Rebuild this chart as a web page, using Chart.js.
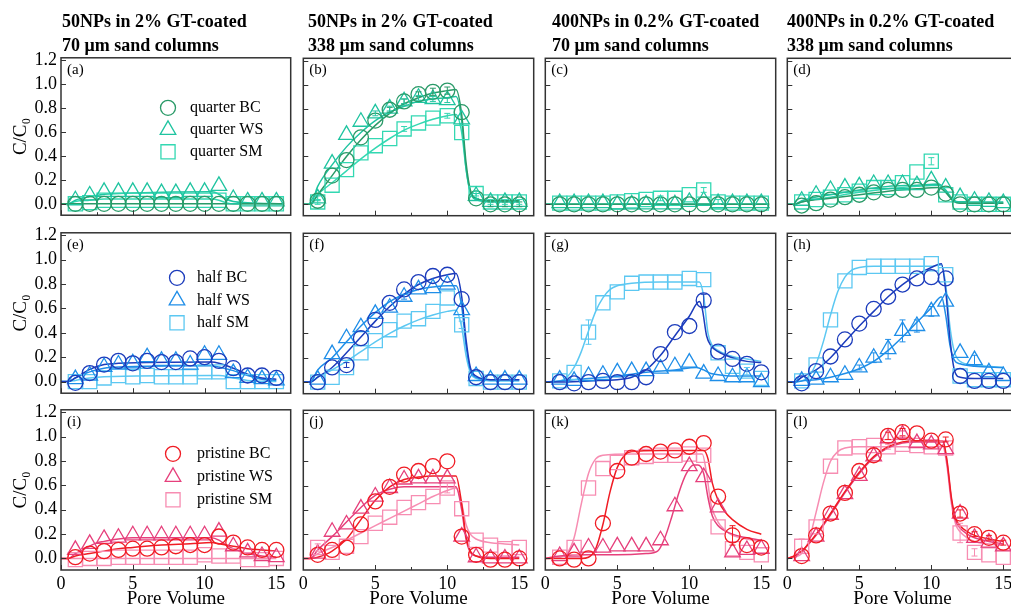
<!DOCTYPE html>
<html><head><meta charset="utf-8">
<script src="https://cdn.jsdelivr.net/npm/chart.js@4/dist/chart.umd.min.js"></script>
<style>
html,body{margin:0;padding:0;background:#fff;overflow:hidden}
#wrap{position:relative;width:1011px;height:609px;overflow:hidden;background:#fff}
.ttl{position:absolute;font-family:"Liberation Serif","Times New Roman",serif;font-weight:bold;font-size:18px;line-height:24px;color:#000;white-space:nowrap}
canvas{position:absolute}
</style></head><body><div id="wrap"></div>
<script>
// ---------- data ----------
const PV = [1,2,3,4,5,6,7,8,9,10,11,12,13,14,15];
const xTickVals = [0,5,10,15];
const xMinorVals = [2.5,7.5,12.5];
const yTickVals = [0,0.2,0.4,0.6,0.8,1.0,1.2];
const titleLine1 = ['50NPs in 2% GT-coated','50NPs in 2% GT-coated','400NPs in 0.2% GT-coated','400NPs in 0.2% GT-coated'];
const titleLine2 = ['70 \u03bcm sand columns','338 \u03bcm sand columns','70 \u03bcm sand columns','338 \u03bcm sand columns'];
const rowNames = ['quarter','half','pristine'];
const seriesNames = ['BC','WS','SM'];
const panelLetters = ['a','b','c','d','e','f','g','h','i','j','k','l'];

// (a)
const a_BC = [0.0,0.0,0.0,0.0,0.0,0.0,0.0,0.0,0.0,0.0,0.0,0.0,0.0,0.0,0.0];
const a_WS = [0.03,0.07,0.1,0.1,0.1,0.1,0.09,0.09,0.1,0.1,0.15,0.04,0.02,0.02,0.02];
const a_SM = [0.0,0.01,0.03,0.03,0.03,0.03,0.03,0.03,0.03,0.03,0.03,0.0,0.0,0.0,0.0];
const a_BC_fit = [[0,0],[0.5,0],[2,0],[10.5,0],[15.5,0]];
const a_WS_fit = [[0,0],[0.5,0],[1,0.03],[2,0.06],[3,0.08],[5,0.09],[10.5,0.1],[11,0.08],[11.5,0.04],[12,0.02],[13,0.01],[15.5,0.0]];
const a_SM_fit = [[0,0],[0.5,0],[1,0.02],[2,0.03],[3,0.04],[10.5,0.04],[11,0.03],[11.5,0.01],[12,0],[15.5,0]];
// (b)
const b_BC = [0.03,0.24,0.37,0.56,0.7,0.79,0.86,0.92,0.94,0.95,0.77,0.05,0.0,0.0,0.0];
const b_WS = [0.05,0.34,0.58,0.69,0.76,0.8,0.86,0.89,0.88,0.87,0.71,0.07,0.02,0.02,0.02];
const b_SM = [0.02,0.16,0.29,0.43,0.49,0.55,0.63,0.68,0.72,0.74,0.6,0.09,0.02,0.02,0.02];
const b_BC_fit = [[0,0],[0.5,0],[1,0.08],[2,0.24],[3,0.4],[4,0.54],[5,0.66],[6,0.76],[7,0.84],[8,0.89],[9,0.93],[10,0.95],[10.6,0.96],[11,0.75],[11.3,0.35],[11.6,0.12],[12,0.05],[13,0.03],[15,0.03]];
const b_WS_fit = [[0,0],[0.5,0],[1,0.15],[2,0.33],[3,0.48],[4,0.6],[5,0.7],[6,0.77],[7,0.82],[8,0.86],[9,0.88],[10,0.89],[10.6,0.9],[11,0.7],[11.3,0.3],[11.6,0.1],[12,0.04],[13,0.02],[15,0.02]];
const b_SM_fit = [[0,0],[0.5,0],[1,0.08],[2,0.18],[3,0.28],[4,0.38],[5,0.47],[6,0.55],[7,0.62],[8,0.67],[9,0.71],[10,0.74],[10.6,0.75],[11,0.6],[11.3,0.3],[11.6,0.1],[12,0.04],[13,0.03],[15,0.03]];
// (c)
const c_BC = [0.0,0.0,0.0,0.0,0.0,0.0,0.0,0.0,0.0,0.0,0.0,0.0,0.0,0.0,0.0];
const c_WS = [0.01,0.01,0.01,0.01,0.0,0.0,0.0,0.0,0.0,0.02,0.03,0.01,0.01,0.01,0.01];
const c_SM = [0.01,0.01,0.01,0.01,0.02,0.03,0.04,0.05,0.05,0.08,0.12,0.02,0.01,0.01,0.01];
const c_BC_fit = [[0,0],[15.5,0]];
const c_WS_fit = [[0,0],[15.5,0]];
const c_SM_fit = [[0,0],[15.5,0]];
// (d)
const d_BC = [-0.01,0.01,0.04,0.06,0.08,0.1,0.12,0.12,0.12,0.14,0.09,0.0,0.0,0.0,0.0];
const d_WS = [0.03,0.08,0.12,0.14,0.15,0.17,0.17,0.17,0.16,0.2,0.14,0.06,0.03,0.02,0.01];
const d_SM = [0.02,0.04,0.06,0.08,0.11,0.14,0.14,0.18,0.27,0.36,0.08,0.02,0.0,0.0,0.0];
const d_BC_fit = [[0,0],[0.5,0],[1,0.02],[3,0.05],[5,0.08],[7,0.11],[9,0.13],[10.5,0.14],[11,0.1],[11.5,0.03],[12,0.01],[15,0.01]];
const d_WS_fit = [[0,0],[0.5,0],[1,0.03],[3,0.08],[5,0.12],[7,0.15],[9,0.16],[10.5,0.17],[11,0.12],[11.5,0.04],[12,0.02],[15,0.02]];
const d_SM_fit = [[0,0],[0.5,0],[1,0.02],[3,0.06],[5,0.1],[7,0.13],[9,0.15],[10.5,0.16],[11,0.11],[11.5,0.03],[12,0.01],[15,0.01]];
// (e)
const e_BC = [-0.01,0.07,0.14,0.17,0.15,0.17,0.16,0.16,0.19,0.2,0.17,0.11,0.05,0.05,0.03];
const e_WS = [0.02,0.05,0.12,0.14,0.15,0.2,0.17,0.17,0.14,0.22,0.22,0.07,0.03,0.02,0.01];
const e_SM = [0.0,0.0,0.03,0.05,0.04,0.05,0.04,0.04,0.04,0.08,0.08,0.0,0.0,0.0,0.0];
const e_BC_fit = [[0,0],[0.5,0],[1,0.03],[2,0.1],[3,0.14],[4,0.15],[10.5,0.16],[11,0.15],[12,0.11],[13,0.06],[14,0.03],[15,0.02]];
const e_WS_fit = [[0,0],[0.5,0],[1,0.03],[2,0.08],[3,0.11],[4,0.12],[10.5,0.13],[11,0.12],[12,0.09],[13,0.05],[14,0.02],[15,0.01]];
const e_SM_fit = [[0,0],[0.5,0],[1,0.01],[2,0.03],[3,0.04],[10.5,0.05],[11,0.05],[12,0.03],[13,0.01],[15,0]];
// (f)
const f_BC = [0.0,0.12,0.14,0.36,0.51,0.65,0.76,0.82,0.87,0.88,0.68,0.04,0.0,0.0,0.0];
const f_WS = [0.02,0.23,0.36,0.45,0.56,0.61,0.7,0.76,0.77,0.8,0.59,0.05,0.02,0.02,0.02];
const f_SM = [0.0,0.04,0.12,0.24,0.34,0.43,0.5,0.52,0.58,0.69,0.47,0.03,0.0,0.0,0.0];
const f_BC_fit = [[0,0],[0.5,0],[1,0.04],[2,0.12],[3,0.24],[4,0.37],[5,0.5],[6,0.62],[7,0.72],[8,0.8],[9,0.85],[10,0.88],[10.6,0.89],[11,0.7],[11.3,0.35],[11.6,0.12],[12,0.05],[13,0.02],[15,0.02]];
const f_WS_fit = [[0,0],[0.5,0],[1,0.1],[2,0.2],[3,0.33],[4,0.46],[5,0.57],[6,0.66],[7,0.72],[8,0.76],[9,0.78],[10,0.79],[10.6,0.79],[11,0.62],[11.3,0.3],[11.6,0.1],[12,0.04],[13,0.02],[15,0.02]];
const f_SM_fit = [[0,0],[0.5,0],[1,0.04],[2,0.1],[3,0.17],[4,0.25],[5,0.33],[6,0.4],[7,0.46],[8,0.51],[9,0.55],[10,0.58],[10.6,0.59],[11,0.45],[11.3,0.22],[11.6,0.08],[12,0.03],[13,0.01],[15,0.01]];
// (g)
const g_BC = [0.0,-0.01,0.0,0.01,0.0,0.0,0.04,0.23,0.41,0.46,0.67,0.25,0.19,0.15,0.08];
const g_WS = [0.02,0.01,0.05,0.06,0.08,0.09,0.09,0.11,0.13,0.16,0.07,0.05,0.04,0.04,0.0];
const g_SM = [0.01,0.08,0.41,0.65,0.74,0.81,0.82,0.82,0.82,0.85,0.84,0.24,0.13,0.09,0.03];
const g_BC_fit = [[0,0],[1,0],[3,0.01],[5,0.02],[6,0.04],[7,0.1],[8,0.22],[9,0.38],[10,0.54],[10.7,0.66],[10.9,0.6],[11.2,0.38],[11.5,0.3],[12,0.25],[13,0.2],[14,0.17],[15,0.16]];
const g_WS_fit = [[0,0],[1,0.01],[3,0.03],[5,0.05],[7,0.08],[9,0.1],[10.5,0.12],[11,0.1],[11.5,0.07],[12,0.06],[13,0.05],[15,0.05]];
const g_SM_fit = [[0,0],[1,0.01],[1.5,0.04],[2,0.12],[2.5,0.25],[3,0.42],[3.5,0.58],[4,0.69],[4.5,0.76],[5,0.79],[6,0.81],[8,0.82],[10,0.82],[10.7,0.82],[11,0.7],[11.3,0.4],[11.6,0.3],[12,0.26],[13,0.21],[14,0.19],[15,0.17]];
// (h)
const h_BC = [-0.01,0.09,0.21,0.35,0.48,0.6,0.7,0.8,0.85,0.86,0.85,0.05,0.01,0.01,0.01];
const h_WS = [0.01,0.02,0.04,0.06,0.12,0.2,0.27,0.42,0.46,0.58,0.66,0.24,0.18,0.08,0.05];
const h_SM = [0.01,0.14,0.51,0.83,0.94,0.95,0.95,0.95,0.95,0.97,0.88,0.05,0.02,0.02,0.02];
const h_BC_fit = [[0,0],[0.5,0],[1,0.04],[2,0.1],[3,0.2],[4,0.33],[5,0.46],[6,0.58],[7,0.7],[8,0.8],[9,0.88],[10,0.94],[10.7,0.97],[11,0.75],[11.3,0.35],[11.6,0.1],[12,0.04],[13,0.03],[15,0.03]];
const h_WS_fit = [[0,0],[0.5,0],[1,0.01],[2,0.02],[3,0.04],[4,0.07],[5,0.11],[6,0.17],[7,0.26],[8,0.37],[9,0.49],[10,0.61],[10.7,0.7],[11,0.55],[11.3,0.3],[11.6,0.18],[12,0.15],[13,0.13],[15,0.12]];
const h_SM_fit = [[0,0],[1,0.01],[1.5,0.05],[2,0.15],[2.5,0.33],[3,0.55],[3.5,0.74],[4,0.86],[4.5,0.92],[5,0.94],[6,0.95],[8,0.95],[10,0.95],[10.7,0.96],[11,0.8],[11.3,0.45],[11.6,0.25],[12,0.17],[13,0.14],[15,0.12]];
// (i)
const i_BC = [0.01,0.04,0.06,0.07,0.08,0.08,0.09,0.1,0.11,0.11,0.18,0.13,0.09,0.07,0.07];
const i_WS = [0.07,0.12,0.16,0.17,0.19,0.19,0.19,0.19,0.19,0.19,0.22,0.1,0.05,0.02,0.01];
const i_SM = [-0.01,0.0,0.0,0.01,0.01,0.01,0.01,0.01,0.01,0.03,0.02,0.02,-0.01,-0.01,0.0];
const i_BC_fit = [[0,0],[0.5,0],[1,0.02],[2,0.04],[3,0.06],[4,0.08],[5,0.09],[7,0.11],[9,0.12],[10.5,0.13],[11,0.12],[12,0.1],[13,0.08],[14,0.07],[15,0.06]];
const i_WS_fit = [[0,0],[0.5,0],[1,0.04],[2,0.1],[2.5,0.13],[3,0.14],[4,0.16],[5,0.17],[10.5,0.17],[11,0.15],[11.5,0.11],[12,0.08],[13,0.04],[14,0.02],[15,0.01]];
const i_SM_fit = [[0,0],[0.5,0],[15,0]];
// (j)
const j_BC = [0.03,0.07,0.09,0.28,0.47,0.59,0.69,0.72,0.76,0.8,0.18,0.03,-0.01,-0.01,0.0];
const j_WS = [0.04,0.22,0.28,0.41,0.51,0.58,0.65,0.66,0.66,0.66,0.18,0.01,0.0,0.0,0.0];
const j_SM = [0.09,0.05,0.1,0.18,0.29,0.34,0.42,0.46,0.51,0.58,0.41,0.15,0.11,0.08,0.09];
const j_BC_fit = [[0,0],[0.5,0],[1,0.01],[2,0.06],[3,0.16],[4,0.32],[5,0.48],[6,0.59],[7,0.65],[8,0.67],[9,0.68],[10,0.68],[10.6,0.68],[11,0.45],[11.3,0.18],[11.6,0.06],[12,0.02],[13,0],[15,0]];
const j_WS_fit = [[0,0],[0.5,0],[1,0.07],[2,0.18],[3,0.3],[4,0.42],[5,0.52],[6,0.57],[7,0.59],[8,0.59],[10,0.59],[10.6,0.59],[11,0.4],[11.3,0.16],[11.6,0.05],[12,0.02],[13,0.01],[15,0.01]];
const j_SM_fit = [[0,0],[0.5,0],[1,0.04],[2,0.09],[3,0.15],[4,0.21],[5,0.27],[6,0.33],[7,0.39],[8,0.45],[9,0.51],[10,0.56],[10.6,0.58],[11,0.45],[11.3,0.28],[11.6,0.2],[12,0.16],[13,0.13],[14,0.12],[15,0.11]];
// (k)
const k_BC = [0.0,-0.01,0.0,0.29,0.72,0.83,0.86,0.88,0.89,0.92,0.95,0.51,0.19,0.11,0.09];
const k_WS = [0.02,0.05,0.09,0.09,0.1,0.1,0.1,0.15,0.43,0.76,0.67,0.42,0.05,0.07,0.08];
const k_SM = [0.01,0.09,0.58,0.74,0.79,0.83,0.84,0.85,0.85,0.86,0.85,0.26,0.08,0.05,0.03];
const k_BC_fit = [[0,0],[2.5,0],[3,0.01],[3.5,0.08],[4,0.28],[4.5,0.55],[5,0.75],[5.5,0.85],[6,0.88],[8,0.89],[10,0.89],[11,0.89],[11.3,0.82],[11.6,0.62],[12,0.48],[12.5,0.38],[13,0.32],[14,0.24],[15,0.2]];
const k_WS_fit = [[0,0],[1,0.02],[3,0.03],[5,0.03],[7,0.04],[7.8,0.06],[8.3,0.17],[8.8,0.35],[9.3,0.55],[9.8,0.7],[10.3,0.77],[10.6,0.77],[11,0.7],[11.3,0.5],[11.6,0.35],[12,0.27],[13,0.2],[14,0.17],[15,0.15]];
const k_SM_fit = [[0,0],[1,0.01],[1.5,0.04],[2,0.17],[2.5,0.45],[3,0.7],[3.5,0.82],[4,0.85],[6,0.86],[8,0.86],[10,0.86],[10.9,0.86],[11.2,0.7],[11.5,0.45],[12,0.3],[12.5,0.23],[13,0.19],[14,0.16],[15,0.14]];
// (l)
const l_BC = [0.02,0.19,0.37,0.54,0.72,0.85,1.01,1.04,1.03,0.97,0.98,0.37,0.2,0.17,0.13];
const l_WS = [0.02,0.18,0.36,0.53,0.68,0.84,0.99,1.02,0.95,0.94,0.9,0.37,0.17,0.13,0.1];
const l_SM = [0.1,0.26,0.76,0.91,0.92,0.93,0.92,0.94,0.93,0.92,0.91,0.21,0.05,0.03,0.01];
const l_BC_fit = [[0,0],[0.5,0.02],[1,0.06],[2,0.2],[3,0.37],[4,0.55],[5,0.71],[6,0.84],[7,0.92],[8,0.96],[9,0.97],[10,0.97],[10.8,0.97],[11.1,0.8],[11.4,0.5],[11.7,0.33],[12,0.27],[12.5,0.22],[13,0.19],[14,0.16],[15,0.14]];
const l_WS_fit = [[0,0],[0.5,0.02],[1,0.06],[2,0.19],[3,0.36],[4,0.54],[5,0.7],[6,0.83],[7,0.91],[8,0.95],[9,0.96],[10,0.96],[10.8,0.96],[11.1,0.78],[11.4,0.48],[11.7,0.31],[12,0.25],[12.5,0.2],[13,0.17],[14,0.14],[15,0.12]];
const l_SM_fit = [[0,0],[0.5,0.01],[1,0.04],[1.5,0.15],[2,0.38],[2.5,0.62],[3,0.8],[3.5,0.88],[4,0.91],[5,0.92],[7,0.92],[9,0.92],[10.8,0.92],[11.1,0.75],[11.4,0.45],[11.7,0.28],[12,0.22],[12.5,0.17],[13,0.14],[14,0.12],[15,0.11]];

// error bar half-widths (only the visible ones), [BC, WS, SM]
const Z = [0,0,0,0,0,0,0,0,0,0,0,0,0,0,0];
const b_err = [[0,0,0,0,0,0.02,0.02,0.02,0.03,0.03,0,0,0.02,0.02,0.02],[0.02,0,0,0,0.02,0.02,0.02,0.02,0.02,0.02,0,0.02,0,0,0],[0.02,0,0,0,0,0,0.02,0,0,0.02,0,0.02,0.02,0.02,0.02]];
const c_err = [Z,Z,[0,0,0,0,0,0,0,0.02,0,0,0.02,0.02,0,0,0]];
const d_err = [Z,Z,[0,0,0,0,0,0,0,0,0,0.03,0,0,0,0,0]];
const f_err = [[0,0,0.02,0,0,0,0,0,0,0,0,0,0,0,0],[0,0,0,0,0,0,0.02,0,0,0,0,0,0,0,0],[0,0,0,0,0,0,0,0,0,0,0.03,0,0,0,0]];
const g_err = [[0,0,0,0,0,0,0,0,0,0,0.05,0,0,0,0],Z,[0,0,0.1,0,0,0,0,0,0,0,0,0,0,0.03,0]];
const h_err = [Z,[0,0,0,0,0.02,0.04,0.08,0.09,0.05,0.04,0,0,0.04,0,0],Z];
const j_err = [Z,Z,[0.03,0,0,0,0,0,0,0,0,0.04,0,0,0,0,0]];
const k_err = [[0,0,0,0,0,0,0,0,0,0,0,0,0.08,0,0],Z,Z];
const l_err = [[0,0,0,0,0,0,0.03,0.03,0,0,0.02,0.03,0.02,0.02,0.02],[0,0,0,0,0,0,0,0.03,0,0,0,0,0,0,0],[0.06,0,0,0,0,0,0.02,0,0,0,0,0.08,0.03,0,0]];
const ERRS = {b:b_err, c:c_err, d:d_err, f:f_err, g:g_err, h:h_err, j:j_err, k:k_err, l:l_err};

const PANELS = {
  a:[a_BC,a_WS,a_SM,a_BC_fit,a_WS_fit,a_SM_fit], b:[b_BC,b_WS,b_SM,b_BC_fit,b_WS_fit,b_SM_fit],
  c:[c_BC,c_WS,c_SM,c_BC_fit,c_WS_fit,c_SM_fit], d:[d_BC,d_WS,d_SM,d_BC_fit,d_WS_fit,d_SM_fit],
  e:[e_BC,e_WS,e_SM,e_BC_fit,e_WS_fit,e_SM_fit], f:[f_BC,f_WS,f_SM,f_BC_fit,f_WS_fit,f_SM_fit],
  g:[g_BC,g_WS,g_SM,g_BC_fit,g_WS_fit,g_SM_fit], h:[h_BC,h_WS,h_SM,h_BC_fit,h_WS_fit,h_SM_fit],
  i:[i_BC,i_WS,i_SM,i_BC_fit,i_WS_fit,i_SM_fit], j:[j_BC,j_WS,j_SM,j_BC_fit,j_WS_fit,j_SM_fit],
  k:[k_BC,k_WS,k_SM,k_BC_fit,k_WS_fit,k_SM_fit], l:[l_BC,l_WS,l_SM,l_BC_fit,l_WS_fit,l_SM_fit]
};

// ---------- styles / layout ----------
const SERIF = '"Liberation Serif","Times New Roman",serif';
const ROW_COLORS = [
  ['#2a9a68','#1fc4a0','#33d8b2'],
  ['#1c3cbc','#1f8ee8','#5cc8f2'],
  ['#f01c24','#e6407c','#f78db2']
];
const STYLES = ['circle','triangle','rect'];
const RADII = [7.5,9,10];
const COL_X = [61,303,545,787];
const ROW_Y = [58,233,410];
const ROW_H = [157,160,160];
const AREA_W = 230;

Chart.defaults.font.family = SERIF;
Chart.defaults.color = '#000';

function drawMarker(ctx, style, x, y, r) {
  ctx.beginPath();
  if (style === 'circle') { ctx.arc(x, y, r, 0, Math.PI*2); }
  else if (style === 'triangle') {
    let a = 0;
    ctx.moveTo(x + Math.sin(a)*r, y - Math.cos(a)*r); a += 2*Math.PI/3;
    ctx.lineTo(x + Math.sin(a)*r, y - Math.cos(a)*r); a += 2*Math.PI/3;
    ctx.lineTo(x + Math.sin(a)*r, y - Math.cos(a)*r); ctx.closePath();
  } else { const s = Math.SQRT1_2*r; ctx.rect(x-s, y-s, 2*s, 2*s); }
  ctx.stroke();
}

const decoPlugin = {
  id: 'deco',
  afterDatasetsDraw(chart, args, opts) {
    // error bars from the scatter datasets
    if (!opts.err) return;
    const {ctx, scales:{y}} = chart;
    ctx.save();
    ctx.lineWidth = 1;
    for (let s = 0; s < 3; s++) {
      const meta = chart.getDatasetMeta(s);
      const ds = chart.data.datasets[s];
      ctx.strokeStyle = ds.borderColor;
      ctx.beginPath();
      meta.data.forEach((pt, i) => {
        const e = opts.err[s][i];
        if (!e) return;
        const v = ds.data[i].y;
        const y1 = y.getPixelForValue(v + e), y2 = y.getPixelForValue(v - e);
        ctx.moveTo(pt.x, y1); ctx.lineTo(pt.x, y2);
        ctx.moveTo(pt.x - 3, y1); ctx.lineTo(pt.x + 3, y1);
        ctx.moveTo(pt.x - 3, y2); ctx.lineTo(pt.x + 3, y2);
      });
      ctx.stroke();
    }
    ctx.restore();
  },
  afterDraw(chart, args, opts) {
    const {ctx, chartArea:{left,right,top,bottom}, scales:{x,y}} = chart;
    ctx.save();
    ctx.strokeStyle = '#333'; ctx.lineWidth = 1;
    ctx.beginPath();
    xTickVals.forEach(v => { const p = Math.round(x.getPixelForValue(v))+0.5; ctx.moveTo(p,bottom); ctx.lineTo(p,bottom-5); });
    xMinorVals.forEach(v => { const p = Math.round(x.getPixelForValue(v))+0.5; ctx.moveTo(p,bottom); ctx.lineTo(p,bottom-3); });
    yTickVals.forEach(v => { const p = Math.round(y.getPixelForValue(v))+0.5; ctx.moveTo(left,p); ctx.lineTo(left+5,p); });
    ctx.stroke();
    ctx.strokeStyle = '#333'; ctx.lineWidth = 1.5;
    ctx.strokeRect(left, top, right-left, bottom-top);
    ctx.fillStyle = '#000'; ctx.font = '15px ' + SERIF; ctx.textBaseline = 'middle'; ctx.textAlign = 'left';
    ctx.fillText(opts.label, left + 6, top + 12);
    if (opts.legend) {
      const L = opts.legend;
      L.items.forEach((it, k) => {
        const cy = top + L.y0 + k*L.dy;
        ctx.strokeStyle = it.color; ctx.lineWidth = 1.3;
        drawMarker(ctx, it.style, left + L.mx, cy, it.r);
        ctx.fillStyle = '#000'; ctx.font = '16px ' + SERIF;
        ctx.fillText(it.text, left + L.tx, cy);
      });
    }
    ctx.restore();
  }
};

const LEGEND_POS = [ {mx:107, tx:129, y0:50, dy:22}, {mx:116, tx:136, y0:45, dy:22.5}, {mx:112, tx:136, y0:44, dy:23} ];

function buildConfig(r, c, letter) {
  const arrs = PANELS[letter];
  const cols = ROW_COLORS[r];
  const datasets = [];
  for (let s = 0; s < 3; s++) {
    datasets.push({
      label: rowNames[r] + ' ' + seriesNames[s],
      data: PV.map((xv, i) => ({x: xv, y: arrs[s][i]})),
      showLine: false, pointStyle: STYLES[s], pointRadius: RADII[s], pointHoverRadius: RADII[s],
      pointBorderColor: cols[s], pointBackgroundColor: 'rgba(0,0,0,0)', pointBorderWidth: 1.3,
      borderColor: cols[s], order: 0
    });
  }
  for (let s = 0; s < 3; s++) {
    datasets.push({
      label: rowNames[r] + ' ' + seriesNames[s] + ' fit',
      data: arrs[3+s].map(p => ({x: p[0], y: p[1]})),
      showLine: true, pointRadius: 0, pointHoverRadius: 0, borderColor: cols[s], borderWidth: 1.5,
      cubicInterpolationMode: 'monotone', fill: false, order: 1
    });
  }
  const legend = c === 0 ? Object.assign({}, LEGEND_POS[r], {
    items: [0,1,2].map(s => ({style: STYLES[s], r: RADII[s], color: cols[s], text: rowNames[r] + ' ' + seriesNames[s]}))
  }) : null;
  return {
    type: 'scatter',
    data: {datasets},
    options: {
      responsive: false, maintainAspectRatio: false, animation: false, events: [],
      layout: {padding: 0},
      plugins: {legend: {display: false}, tooltip: {enabled: false}, title: {display: false},
        deco: {label: '(' + letter + ')', legend, err: ERRS[letter] || null}},
      scales: {
        x: {type: 'linear', min: 0, max: 16,
          afterBuildTicks: sc => { sc.ticks = xTickVals.map(v => ({value: v})); },
          ticks: {display: r === 2, font: {size: 18}, color: '#000', padding: 3, maxRotation: 0, autoSkip: false, callback: v => String(v)},
          grid: {display: false, drawTicks: false}, border: {display: false},
          title: {display: r === 2, text: 'Pore Volume', font: {size: 19}, color: '#000', padding: {top: 0, bottom: 0}},
          afterFit: sc => { sc.height = r === 2 ? 40 : 0; }
        },
        y: {type: 'linear', min: -0.095, max: 1.22,
          afterBuildTicks: sc => { sc.ticks = yTickVals.map(v => ({value: v})); },
          ticks: {display: c === 0, font: {size: 18}, color: '#000', padding: 4, callback: v => Number(v).toFixed(1)},
          grid: {display: false, drawTicks: false}, border: {display: false},
          title: {display: c === 0, text: 'C/C\u2080', font: {size: 19}, color: '#000', padding: {top: 10, bottom: 0}},
          afterFit: sc => { sc.width = c === 0 ? 61 : 0; }
        }
      }
    },
    plugins: [decoPlugin]
  };
}

const wrap = document.getElementById('wrap');
function makePanel(r, c) {
  const letter = panelLetters[r*4 + c];
  const tgt = {left: COL_X[c], top: ROW_Y[r], w: AREA_W, h: ROW_H[r]};
  let cv = document.createElement('canvas');
  cv.width = 400; cv.height = 300; cv.style.width = '400px'; cv.style.height = '300px';
  cv.style.left = '0px'; cv.style.top = '0px'; cv.style.visibility = 'hidden';
  wrap.appendChild(cv);
  let ch = new Chart(cv, buildConfig(r, c, letter));
  const ca = ch.chartArea;
  const mL = ca.left, mT = ca.top, mR = 400 - ca.right, mB = 300 - ca.bottom;
  ch.destroy(); wrap.removeChild(cv);
  const W = Math.round(mL + tgt.w + mR), H = Math.round(mT + tgt.h + mB);
  cv = document.createElement('canvas');
  cv.width = W; cv.height = H; cv.style.width = W + 'px'; cv.style.height = H + 'px';
  cv.style.left = Math.round(tgt.left - mL) + 'px'; cv.style.top = Math.round(tgt.top - mT) + 'px';
  wrap.appendChild(cv);
  new Chart(cv, buildConfig(r, c, letter));
}
for (let r = 0; r < 3; r++) for (let c = 0; c < 4; c++) makePanel(r, c);

const TITLE_X = [62,308,552,787];
for (let c = 0; c < 4; c++) {
  const d = document.createElement('div');
  d.className = 'ttl';
  d.style.left = TITLE_X[c] + 'px'; d.style.top = '9px';
  d.innerHTML = titleLine1[c] + '<br>' + titleLine2[c];
  wrap.appendChild(d);
}
</script>
</body></html>
